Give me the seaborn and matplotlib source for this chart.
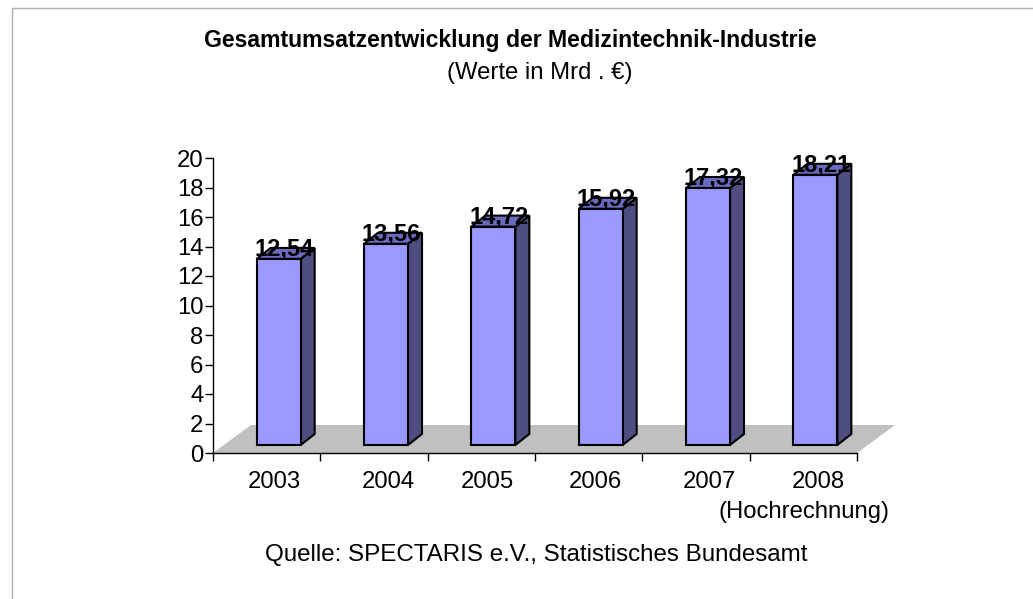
import matplotlib
matplotlib.use("Agg")
import matplotlib.pyplot as plt
from matplotlib.patches import Polygon, Rectangle
import seaborn as sns

years = ["2003", "2004", "2005", "2006", "2007", "2008"]
umsatz = [12.54, 13.56, 14.72, 15.92, 17.32, 18.21]
labels = ["12,54", "13,56", "14,72", "15,92", "17,32", "18,21"]
yticks = list(range(0, 21, 2))

sns.set_theme(style="white")
plt.rcParams["font.family"] = ["Liberation Sans", "DejaVu Sans"]

W, H = 1033, 599
fig = plt.figure(figsize=(W / 100, H / 100), dpi=100)
fig.patch.set_facecolor("white")
ax = fig.add_axes([213 / W, 1 - 453 / H, 644 / W, 295 / H])
ax.patch.set_alpha(0)

sns.barplot(x=years, y=umsatz, color="#9999FF", saturation=1, width=0.41,
            edgecolor="black", linewidth=1.5, ax=ax, zorder=3)
ax.set_xlim(-0.5, 5.5)
ax.set_ylim(0, 20)

# fake 3d: depth of the floor and of the bars in data units
floor_dx, floor_dy = 38 / 107.3, 28 / 14.75
bar_dx, bar_dy = 14 / 107.3, 11 / 14.75
shift_x, shift_y = 12 / 107.3, 8 / 14.75

ax.add_patch(Polygon([(-0.5, 0), (5.5, 0), (5.5 + floor_dx, floor_dy), (-0.5 + floor_dx, floor_dy)],
                     closed=True, facecolor="#C0C0C0", edgecolor="none", zorder=1, clip_on=False))

for p, lab in zip(ax.patches[:6], labels):
    p.set_x(p.get_x() + shift_x)
    p.set_y(shift_y)
    x0, w, y0 = p.get_x(), p.get_width(), p.get_y()
    top = y0 + p.get_height() * 1.006
    p.set_height(top - y0)
    x1 = x0 + w
    ax.add_patch(Polygon([(x1, y0), (x1 + bar_dx, y0 + bar_dy), (x1 + bar_dx, top + bar_dy), (x1, top)],
                         closed=True, facecolor="#4D4D80", edgecolor="black", lw=1.5, zorder=2.9, clip_on=False))
    ax.add_patch(Polygon([(x0, top), (x0 + bar_dx, top + bar_dy), (x1 + bar_dx, top + bar_dy), (x1, top)],
                         closed=True, facecolor="#6A6AC0", edgecolor="black", lw=1.5, zorder=2.9, clip_on=False))
    ax.text(x0 + w / 2 + 0.05, top + 0.68, lab, ha="center", va="center", fontsize=17,
            fontweight="bold", color="black", zorder=5)

sns.despine(ax=ax, top=True, right=True)
for side in ["left", "bottom"]:
    ax.spines[side].set_linewidth(1)
    ax.spines[side].set_color("black")
    ax.spines[side].set_zorder(6)
ax.set_yticks(yticks)
# year labels are not quite centred in the original
label_shift = [0.07, 0.13, 0.06, 0.065, 0.12, 0.14]
ax.set_xticks([i + s for i, s in enumerate(label_shift)], labels=years)
ax.set_xticks([i - 0.5 for i in range(7)], minor=True)
ax.tick_params(axis="x", which="minor", length=6, width=1, color="black", bottom=True)
ax.tick_params(axis="x", which="major", length=0, pad=13, labelsize=17.2, labelcolor="black")
ax.tick_params(axis="y", length=6, width=1, color="black", left=True, pad=1, labelsize=17.2, labelcolor="black")

fig.text(510.5 / W, 1 - 41 / H, "Gesamtumsatzentwicklung der Medizintechnik-Industrie", ha="center", va="center",
         fontsize=16.55, fontweight="bold", color="black")
fig.text(540 / W, 1 - 73 / H, "(Werte in Mrd . €)", ha="center", va="center", fontsize=17.2, color="black")
fig.text(804 / W, 1 - 512 / H, "(Hochrechnung)", ha="center", va="center", fontsize=17.2, color="black")
fig.text(536 / W, 1 - 555 / H, "Quelle: SPECTARIS e.V., Statistisches Bundesamt", ha="center", va="center",
         fontsize=17.4, color="black")

# outer frame
fig.add_artist(Rectangle((12 / W, 1 - 610 / H), 1100 / W, 602 / H, transform=fig.transFigure,
                         facecolor="none", edgecolor="#B0B0B0", lw=1))

fig.savefig("out.png", dpi=100)
